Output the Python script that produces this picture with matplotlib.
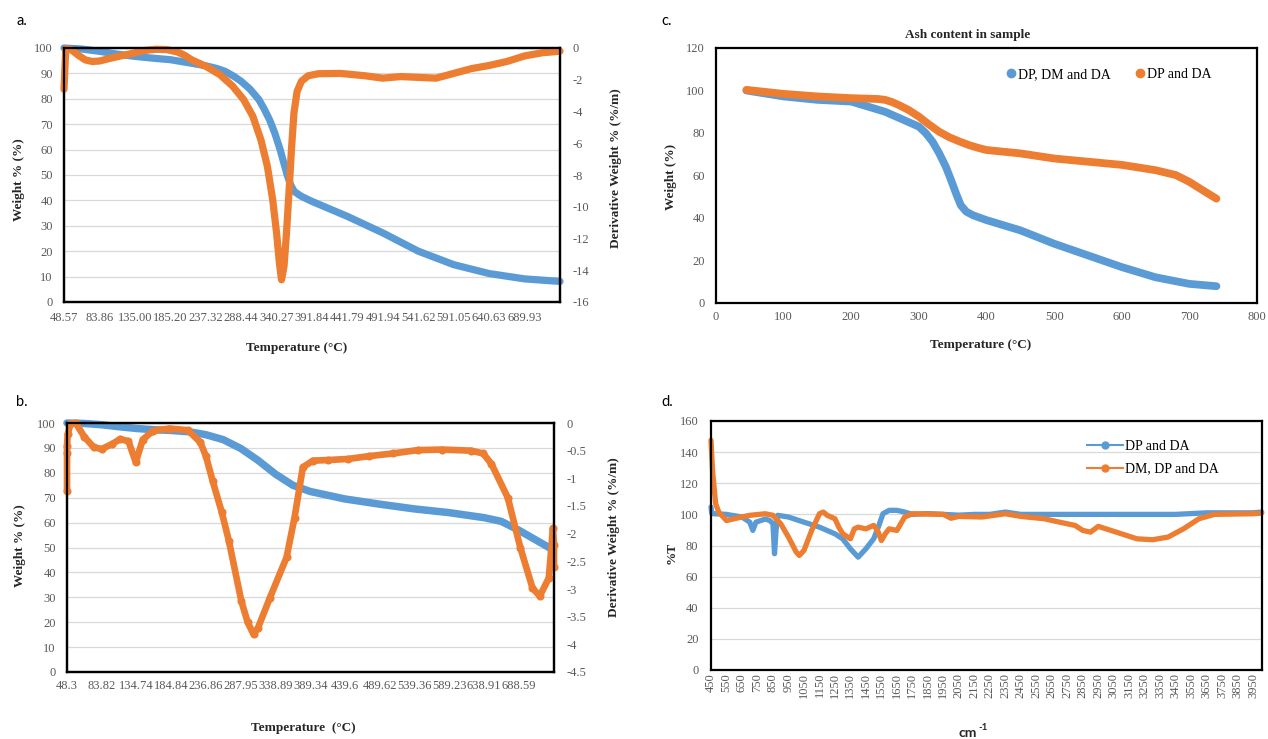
import matplotlib
matplotlib.use('Agg')
import numpy as np
import matplotlib.pyplot as plt
from matplotlib.lines import Line2D

BLUE = '#5B9BD5'
ORANGE = '#ED7D31'

# ---- panel a : TGA / DTG (category axis, position = label index) ----
a_ticklabels = ['48.57', '83.86', '135.00', '185.20', '237.32', '288.44', '340.27',
                '391.84', '441.79', '491.94', '541.62', '591.05', '640.63', '689.93']
a_pos_w = [0, 0.5, 1, 1.5, 2, 2.5, 3, 3.6, 4, 4.3, 4.55, 4.8, 5, 5.25, 5.5, 5.65,
           5.8, 5.95, 6.1, 6.2, 6.3, 6.4, 6.5, 6.7, 7, 8, 9, 10, 11, 12, 13, 14]
a_weight = [100, 99.6, 98.7, 97.6, 96.7, 96.0, 95.4, 94.0, 93.0, 92.0, 90.8, 88.8,
            86.9, 83.8, 79.7, 76.0, 71.8, 66.5, 60.0, 55.0, 50.0, 46.0, 43.5, 41.6,
            39.6, 33.7, 27.2, 20.0, 14.7, 11.2, 9.1, 8.1]
a_pos_d = [0, 0.05, 0.2, 0.4, 0.6, 0.8, 1.0, 1.3, 1.6, 2.0, 2.3, 2.6, 2.9, 3.2, 3.4,
           3.6, 4.0, 4.4, 4.76, 5.07, 5.33, 5.56, 5.74, 5.89, 6.0, 6.08, 6.14, 6.21,
           6.28, 6.35, 6.42, 6.49, 6.58, 6.7, 6.89, 7.18, 7.8, 8.5, 9.0, 9.5, 10.0,
           10.5, 11.0, 11.5, 12.0, 12.5, 13.0, 13.5, 14.0]
a_deriv = [-2.6, -0.05, -0.1, -0.45, -0.75, -0.85, -0.82, -0.65, -0.5, -0.3, -0.15,
           -0.08, -0.1, -0.25, -0.45, -0.74, -1.15, -1.68, -2.4, -3.25, -4.3, -5.8,
           -7.45, -9.55, -11.65, -13.55, -14.6, -13.75, -11.65, -9.1, -6.4, -4.1,
           -2.73, -2.1, -1.75, -1.62, -1.6, -1.75, -1.9, -1.8, -1.85, -1.9, -1.6,
           -1.3, -1.1, -0.85, -0.5, -0.3, -0.2]

# ---- panel b ----
b_ticklabels = ['48.3', '83.82', '134.74', '184.84', '236.86', '287.95', '338.89',
                '389.34', '439.6', '489.62', '539.36', '589.23', '638.91', '688.59']
b_pos_w = [0, 0.5, 1, 1.5, 2, 2.5, 3, 3.5, 4, 4.5, 5, 5.5, 6, 6.5, 7, 7.5, 8, 9,
           10, 11, 12, 12.5, 13, 13.5, 14]
b_weight = [100, 99.8, 99.3, 98.5, 97.8, 97.3, 97.0, 96.5, 95.3, 93.3, 89.8, 85.0,
            79.5, 75.0, 72.5, 71.0, 69.5, 67.4, 65.5, 64.0, 62.0, 60.5, 57.0, 53.0, 49.0]
b_pos_d = [0, 0, 0, 0.02, 0.1, 0.25, 0.5, 0.77, 1.0, 1.3, 1.53, 1.77, 1.98, 2.18,
           2.48, 2.95, 3.48, 3.84, 4.0, 4.19, 4.45, 4.66, 5.02, 5.2, 5.37, 5.5,
           5.84, 6.32, 6.55, 6.79, 7.08, 7.5, 8.09, 8.68, 9.39, 10.1, 10.8, 11.63,
           11.98, 12.22, 12.69, 13.05, 13.4, 13.61, 13.87, 13.99, 14.02, 14.02]
b_deriv = [-1.23, -0.55, -0.42, -0.2, -0.02, 0, -0.25, -0.44, -0.47, -0.38, -0.29,
           -0.33, -0.71, -0.3, -0.14, -0.1, -0.13, -0.35, -0.6, -1.04, -1.6, -2.13,
           -3.22, -3.6, -3.82, -3.7, -3.16, -2.43, -1.71, -0.8, -0.68, -0.67, -0.65,
           -0.6, -0.55, -0.49, -0.48, -0.5, -0.55, -0.74, -1.35, -2.25, -2.98,
           -3.13, -2.8, -1.9, -2.2, -2.6]

# ---- panel c : ash content ----
c_temp = [45, 100, 150, 200, 250, 300, 310, 320, 330, 340, 348, 355, 362, 370, 380,
          400, 450, 500, 550, 600, 650, 700, 740]
c_dp_dm_da = [100, 97.2, 95.6, 94.8, 90.0, 83.0, 80.0, 76.0, 70.5, 64.0, 57.5,
              51.5, 46.0, 43.0, 41.3, 39.0, 34.2, 27.9, 22.4, 16.9, 12.1, 9.0, 7.9]
c_temp2 = [45, 100, 150, 200, 240, 250, 260, 270, 285, 300, 315, 330, 345, 360, 375,
           390, 400, 450, 500, 550, 600, 650, 680, 700, 720, 740]
c_dp_da = [100.3, 98.4, 97.2, 96.4, 96.0, 95.6, 94.6, 93.2, 90.8, 87.7, 84.0, 80.6,
           78.0, 76.0, 74.2, 72.8, 72.0, 70.4, 68.0, 66.5, 65.0, 62.5, 60.2, 57.0,
           53.0, 49.1]

# ---- panel d : FTIR ----
d_wn1 = [450, 455, 470, 550, 650, 700, 720, 740, 800, 830, 850, 860, 870, 880, 950,
         1050, 1150, 1250, 1300, 1350, 1400, 1450, 1500, 1530, 1560, 1600, 1650,
         1700, 1750, 1850, 1950, 2050, 2150, 2250, 2350, 2450, 2650, 2850, 3050,
         3250, 3450, 3650, 3850, 3950, 4005]
d_dp_da = [104.7, 100.5, 100.4, 100, 98.3, 95, 89.7, 95, 97, 96, 94, 74.7, 89.7,
           99.4, 98.3, 95, 91.8, 87.5, 84.3, 77.9, 72.5, 77.9, 84.3, 91.8, 100.4,
           102.6, 102.6, 101.5, 100, 100.5, 100, 99.5, 100, 100, 101.5, 100, 100,
           100, 100, 100, 100, 101, 101, 101, 101.5]
d_wn2 = [450, 460, 480, 500, 550, 600, 700, 800, 850, 900, 950, 1000, 1020, 1050,
         1100, 1150, 1175, 1200, 1250, 1275, 1300, 1350, 1375, 1400, 1450, 1500,
         1525, 1550, 1575, 1600, 1650, 1700, 1750, 1950, 2000, 2050, 2200, 2350,
         2450, 2600, 2700, 2800, 2850, 2900, 2950, 3000, 3100, 3200, 3300, 3400,
         3500, 3600, 3700, 3950, 4005]
d_dm_dp_da = [147.6, 128, 106.9, 101.5, 96, 97.2, 99.4, 100.4, 99.4, 94, 85.4,
              75.8, 73.6, 76.8, 89.7, 100.4, 101.5, 99.4, 97.2, 91.8, 87.6, 84.3,
              90.7, 91.8, 90.7, 92.9, 89.7, 83.2, 87.5, 90.7, 89.7, 98.3, 100.4,
              100, 97.5, 98.7, 98.3, 100.4, 98.7, 97.2, 95, 92.9, 89.7, 88.6, 92.3,
              90.7, 87.5, 84.3, 83.7, 85.4, 90.7, 97.2, 100, 100.4, 100.8]

plt.rcParams['font.family'] = ['Liberation Serif', 'DejaVu Serif']
plt.rcParams['axes.unicode_minus'] = False
W, H = 1268, 739
fig = plt.figure(figsize=(W / 100, H / 100), dpi=100)
TS = 9  # tick label size


def box(l, r, t, b):
    return [l / W, 1 - b / H, (r - l) / W, (b - t) / H]


def style(ax, xpad=7, ypad=8):
    ax.set_axisbelow(True)
    ax.grid(axis='y', color='#D9D9D9', lw=0.9)
    ax.grid(axis='x', visible=False)
    for s in ax.spines.values():
        s.set_linewidth(1.6)
        s.set_color('black')
    ax.tick_params(length=0, labelsize=TS, labelcolor='#595959')
    ax.tick_params(axis='x', pad=xpad)
    ax.tick_params(axis='y', pad=ypad)


def ftext(x, y, s, **kw):
    kw.setdefault('ha', 'center')
    kw.setdefault('va', 'center')
    fig.text(x / W, 1 - y / H, s, **kw)


lkw = dict(solid_capstyle='round', solid_joinstyle='round', clip_on=False)
lab = dict(fontsize=9.5, fontweight='bold', color='#262626')
sans = ['Lato', 'DejaVu Sans']

# a
ax = fig.add_axes(box(64, 560, 48, 302))
style(ax, xpad=7)
ax.plot(a_pos_w, a_weight, color=BLUE, lw=5.2, **lkw)
ax.set_xlim(0, 14.0)
ax.set_ylim(0, 100)
ax.set_yticks(np.arange(0, 101, 10))
ax.set_xticks(range(len(a_ticklabels)))
ax.set_xticklabels(a_ticklabels)
ax2 = ax.twinx()
ax2.plot(a_pos_d, a_deriv, color=ORANGE, lw=5.2, **lkw)
ax2.set_ylim(-16, 0)
ax2.set_yticks(np.arange(-16, 1, 2))
ax2.tick_params(length=0, labelsize=TS, labelcolor='#595959', pad=9)
for s in ax2.spines.values():
    s.set_linewidth(1.6)
ftext(22, 21, 'a.', fontsize=10.5, family=sans)
ftext(297, 348, 'Temperature (°C)', **lab)
ftext(19, 180, 'Weight % (%)', rotation=90, **lab)
ftext(616, 168, 'Derivative Weight % (%/m)', rotation=90, **lab)

# b
ax = fig.add_axes(box(67, 554, 423, 672))
style(ax, xpad=6)
ax.plot(b_pos_w, b_weight, color=BLUE, lw=5.4, **lkw)
ax.set_xlim(0, 14.02)
ax.set_ylim(0, 100)
ax.set_yticks(np.arange(0, 101, 10))
ax.set_xticks(range(len(b_ticklabels)))
ax.set_xticklabels(b_ticklabels)
ax2 = ax.twinx()
ax2.plot(b_pos_d, b_deriv, color=ORANGE, lw=4.8, marker='o', ms=4.8, **lkw)
ax2.set_ylim(-4.5, 0)
b_rticks = np.arange(-4.5, 0.01, 0.5)
ax2.set_yticks(b_rticks)
ax2.set_yticklabels(['%g' % v for v in b_rticks])
ax2.tick_params(length=0, labelsize=TS, labelcolor='#595959', pad=9)
for s in ax2.spines.values():
    s.set_linewidth(1.6)
ftext(22, 402, 'b.', fontsize=10.5, family=sans)
ftext(303, 728, 'Temperature  (°C)', **lab)
ftext(20, 546, 'Weight % (%)', rotation=90, **lab)
ftext(614, 537, 'Derivative Weight % (%/m)', rotation=90, **lab)

# c
ax = fig.add_axes(box(716, 1257, 48, 303))
style(ax, xpad=6)
ax.plot(c_temp, c_dp_dm_da, color=BLUE, lw=5.6, **lkw)
ax.plot(c_temp2, c_dp_da, color=ORANGE, lw=5.6, **lkw)
ax.set_xlim(0, 800)
ax.set_ylim(0, 120)
ax.set_xticks(np.arange(0, 801, 100))
ax.set_yticks(np.arange(0, 121, 20))
ax.grid(axis='y', visible=False)
handles = [Line2D([], [], ls='none', marker='o', ms=6, color=BLUE),
           Line2D([], [], ls='none', marker='o', ms=6, color=ORANGE)]
ax.legend(handles, ['DP, DM and DA', 'DP and DA'], loc='center left',
          bbox_to_anchor=(0.51, 0.895), ncol=2, frameon=False, fontsize=10,
          handletextpad=0.0, columnspacing=1.6, handlelength=1.0)
ftext(667, 21, 'c.', fontsize=10.5, family=sans)
ftext(968, 35, 'Ash content in sample', **lab)
ftext(981, 345, 'Temperature (°C)', **lab)
ftext(671, 177, 'Weight (%)', rotation=90, **lab)

# d
ax = fig.add_axes(box(711, 1262, 421, 670))
style(ax, xpad=2, ypad=9)
ax.plot(d_wn1, d_dp_da, color=BLUE, lw=3.8, **lkw)
ax.plot(d_wn2, d_dm_dp_da, color=ORANGE, lw=3.8, **lkw)
ax.set_xlim(450, 4007)
ax.set_ylim(0, 160)
ax.set_yticks(np.arange(0, 161, 20))
ax.set_xticks(np.arange(450, 4000, 100))
ax.set_xticklabels([str(v) for v in range(450, 4000, 100)], rotation=90)
handles = [Line2D([], [], lw=1.5, marker='o', ms=5, color=BLUE),
           Line2D([], [], lw=1.5, marker='o', ms=5, color=ORANGE)]
ax.legend(handles, ['DP and DA', 'DM, DP and DA'], loc='upper left',
          bbox_to_anchor=(0.66, 0.975), frameon=False, fontsize=10,
          handletextpad=0.1, handlelength=2.6, labelspacing=0.7)
ftext(667, 402, 'd.', fontsize=10.5, family=sans)
ftext(968, 733, 'cm', fontsize=10, fontweight='bold', color='#262626', family=sans)
ftext(983, 727, '-1', fontsize=7, fontweight='bold', color='#262626', family=sans)
ftext(672, 553, '%T', rotation=90, **lab)

fig.savefig('out.png', dpi=100)
